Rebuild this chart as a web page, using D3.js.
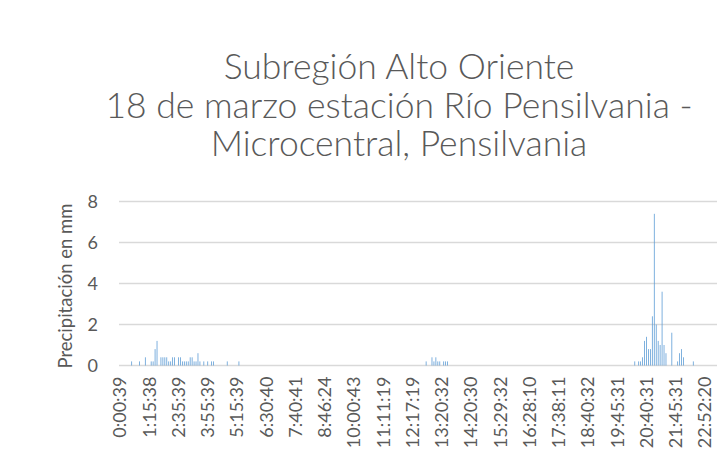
<!DOCTYPE html>
<html>
<head>
<meta charset="utf-8">
<script src="https://cdn.jsdelivr.net/npm/d3@7"></script>
<style>
  body { margin: 0; background: #fff; }
  text { font-family: Lato, "Open Sans", sans-serif; fill: #595959; }
</style>
</head>
<body>
<div id="barchart"></div>
<script>
// title lines
var titleLines = ["Subregión Alto Oriente",
                  "18 de marzo estación Río Pensilvania -",
                  "Microcentral, Pensilvania"];

// labels shown under the x axis (one every 15 records)
var tickLabels = ["0:00:39","1:15:38","2:35:39","3:55:39","5:15:39","6:30:40","7:40:41",
                  "8:46:24","10:00:43","11:11:19","12:17:19","13:20:32","14:20:30","15:29:32",
                  "16:28:10","17:38:11","18:40:32","19:45:31","20:40:31","21:45:31","22:52:20"];
var labelStep = 15;
var nRecords = 316;

// records with rain (record number, mm)
var rainIndex = [6,10,13,16,17,18,19,21,22,23,24,25,26,27,28,30,31,32,33,34,35,36,37,38,39,40,41,43,45,47,48,55,61,
                 157,160,161,162,163,164,166,167,168,
                 264,266,267,268,269,270,271,272,273,274,275,276,277,278,279,280,283,286,287,288,289,294];
var rainValue = [0.2,0.2,0.4,0.2,0.2,0.8,1.2,0.4,0.4,0.4,0.4,0.2,0.2,0.4,0.4,0.4,0.4,0.2,0.2,0.2,0.2,0.4,0.4,0.2,0.2,0.6,0.2,0.2,0.2,0.2,0.2,0.2,0.2,
                 0.2,0.4,0.2,0.4,0.2,0.2,0.2,0.2,0.2,
                 0.2,0.2,0.2,0.4,1.2,1.4,0.8,0.8,2.4,7.4,2.0,1.2,1.0,3.6,1.0,0.6,1.6,0.2,0.6,0.8,0.4,0.2];

var yTicks = [0,2,4,6,8];

var width = 717, height = 474;
var plot = {left: 119, top: 201.5, bottom: 365.5, step: 1.95};

var svg = d3.select("#barchart").append("svg")
  .attr("width", width)
  .attr("height", height);

// title
svg.append("g").selectAll("text")
  .data(titleLines)
  .enter().append("text")
  .attr("x", 399)
  .attr("y", function(d, i) { return 79 + i * 38.5; })
  .attr("text-anchor", "middle")
  .style("font-size", "35.5px")
  .style("font-weight", 300)
  .text(function(d) { return d; });

// scales
var x = d3.scaleBand()
  .domain(d3.range(nRecords))
  .range([plot.left, plot.left + nRecords * plot.step])
  .paddingInner(0.6)
  .paddingOuter(0.3);

var y = d3.scaleLinear()
  .domain([0, 8])
  .range([plot.bottom, plot.top]);

// gridlines
svg.append("g").selectAll("line")
  .data(yTicks)
  .enter().append("line")
  .attr("x1", plot.left)
  .attr("x2", width)
  .attr("y1", function(d) { return y(d); })
  .attr("y2", function(d) { return y(d); })
  .attr("stroke", "#d9d9d9")
  .attr("stroke-width", 1.3);

// bars
var bars = rainIndex.map(function(d, i) { return {idx: d, mm: rainValue[i]}; });
svg.append("g").selectAll("rect")
  .data(bars)
  .enter().append("rect")
  .attr("x", function(d) { return x(d.idx); })
  .attr("width", x.bandwidth())
  .attr("y", function(d) { return y(d.mm); })
  .attr("height", function(d) { return y(0) - y(d.mm); })
  .attr("fill", "#5b9bd5");

// y axis
var yAxis = svg.append("g")
  .attr("transform", "translate(" + plot.left + ",0)")
  .call(d3.axisLeft(y).tickValues(yTicks).tickSize(0).tickPadding(21));
yAxis.select(".domain").remove();
yAxis.selectAll("text")
  .style("font-size", "18px")
  .style("font-family", "Lato, sans-serif")
  .attr("fill", "#595959");

// x axis
var xAxis = svg.append("g")
  .attr("transform", "translate(0," + plot.bottom + ")")
  .call(d3.axisBottom(x)
    .tickValues(tickLabels.map(function(d, i) { return i * labelStep; }))
    .tickFormat(function(d) { return tickLabels[d / labelStep]; })
    .tickSize(0));
xAxis.select(".domain").remove();
xAxis.selectAll("text")
  .style("font-size", "18px")
  .style("font-family", "Lato, sans-serif")
  .attr("fill", "#595959")
  .style("text-anchor", "end")
  .attr("x", -11)
  .attr("y", 0)
  .attr("dy", ".35em")
  .attr("transform", "rotate(-90)");

// y axis title
svg.append("text")
  .attr("transform", "translate(72,286) rotate(-90)")
  .attr("text-anchor", "middle")
  .style("font-size", "18.5px")
  .text("Precipitación en mm");
</script>
</body>
</html>
